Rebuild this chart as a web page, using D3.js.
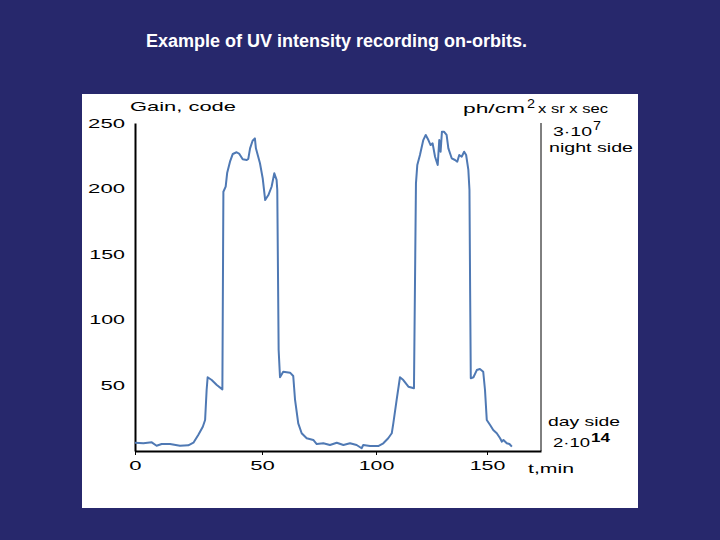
<!DOCTYPE html>
<html>
<head>
<meta charset="utf-8">
<script src="https://cdn.jsdelivr.net/npm/d3@7/dist/d3.min.js"></script>
<style>
  html, body { margin: 0; padding: 0; background: #27286c; }
  svg { display: block; }
  text { font-family: "Liberation Sans", Arial, sans-serif; }
</style>
</head>
<body>
<svg id="chart" width="720" height="540"></svg>
<script>
// ---- data ----
const times = [0, 3.3, 6.6, 8.5, 10.5, 13.8, 17.7, 21.0, 23.0, 24.9, 26.7, 27.6, 28.2, 28.6, 30.2, 32.2, 34.4,
  34.8, 35.7, 36.3, 37.4, 38.5, 40.0, 41.1, 42.4, 44.0, 44.6, 45.3, 46.3, 47.2, 47.6, 49.2, 50.3, 51.4, 52.8,
  54.2, 55.4, 56.4, 56.7, 57.3, 57.9, 59.3, 62.3, 63.7, 64.5, 65.9, 67.4, 69.6, 72.5, 74.0, 76.9, 79.8, 82.8,
  85.7, 88.6, 91.5, 93.7, 94.4, 97.4, 101.0, 103.3, 105.5, 107.1, 107.8, 109.3, 110.8, 112.3, 114.6, 117.1,
  118.0, 118.6, 119.8, 121.3, 122.4, 123.6, 124.6, 125.5, 126.6, 127.8, 128.5, 129.1, 129.7, 130.6, 131.8,
  132.6, 134.1, 135.6, 136.6, 137.5, 138.6, 139.7, 140.6, 141.6, 142.1, 142.4, 142.7, 143.9, 145.4, 146.8,
  148.3, 149.1, 149.9, 151.4, 152.8, 154.4, 155.9, 156.7, 157.4, 158.9, 160.1, 161.2];
const gain = [6.3, 5.9, 6.6, 4.0, 5.3, 5.3, 4.0, 4.3, 6.3, 12.2, 18.5, 23.6, 46.5, 56.2, 54.1, 50.3, 47.0,
  197.6, 201.5, 212.1, 220.5, 226.4, 227.7, 226.4, 222.3, 221.8, 222.6, 230.7, 236.5, 238.3, 230.7, 219.3, 207.9, 191.3, 195.1,
  201.4, 211.7, 206.6, 198.9, 77, 56.2, 60.4, 59.7, 57.2, 38.9, 21.1, 13.5, 9.7, 8.4, 5.3, 5.9, 4.6, 6.3,
  4.6, 5.9, 4.6, 2.1, 4.6, 3.8, 3.8, 5.9, 9.7, 13.5, 21.1, 38.9, 56.2, 54.1, 49.0, 47.8,
  204.0, 218.0, 225.6, 237.0, 240.9, 237.0, 233.2, 234.5, 224.3, 218.0, 237.0, 228.1, 243.4, 243.4, 240.9,
  230.7, 223.1, 221.8, 220.5, 225.6, 224.3, 228.1, 225.6, 214.2, 198.9, 122.7, 55.4, 56.2, 61.7, 62.5,
  60.4, 46.5, 23.6, 19.8, 16.0, 13.5, 9.7, 7.1, 8.4, 5.9, 5.3, 3.3];
const xTicks = [0, 50, 100, 150];
const yTicks = [50, 100, 150, 200, 250];
const tMax = 174.3;
const titleText = "Example of UV intensity recording on-orbits.";
const yLabel = "Gain, code";
const xLabel = "t,min";
const unitMain = "ph/cm";
const unitSup = "2";
const unitRest = "x sr x sec";
const nightVal = "3·10", nightExp = "7", nightText = "night side";
const dayText = "day side", dayVal = "2·10", dayExp = "14";

// ---- drawing ----
const svg = d3.select("#chart");

svg.append("text")
  .attr("x", 146).attr("y", 47)
  .attr("fill", "#ffffff")
  .attr("font-weight", "bold")
  .attr("font-size", 18)
  .text(titleText);

svg.append("rect")
  .attr("x", 82).attr("y", 94).attr("width", 556).attr("height", 414)
  .attr("fill", "#ffffff");

// the original's horizontal axis is not evenly spaced; piecewise linear scale
const x = d3.scaleLinear()
  .domain([0, 50, 100, 150, tMax])
  .range([135, 262, 376, 487, 541]);
const y = d3.scaleLinear().domain([0, 250]).range([451, 123]);

const digitW = 12.3;
function stretch(sel, perChar) {
  sel.each(function() {
    const t = d3.select(this);
    const s = t.text();
    let w = 0;
    for (const c of s) w += (c === "1") ? perChar * 0.9 : perChar;
    t.attr("textLength", w).attr("lengthAdjust", "spacingAndGlyphs");
  });
}

// x axis
const gx = svg.append("g").attr("transform", `translate(0,${y(0)})`)
  .call(d3.axisBottom(x).tickValues(xTicks).tickSize(4).tickSizeOuter(0));
gx.select(".domain").attr("stroke", "#000").attr("stroke-width", 2);
gx.selectAll(".tick line").attr("stroke", "#000").attr("stroke-width", 1);
gx.selectAll(".tick text")
  .attr("fill", "#000").attr("font-size", 13)
  .attr("y", 19).attr("dy", null)
  .attr("font-family", "Liberation Sans, Arial, sans-serif")
  .call(stretch, digitW);

// y axis
const gy = svg.append("g").attr("transform", `translate(${x(0)},0)`)
  .call(d3.axisLeft(y).tickValues(yTicks).tickSize(0).tickPadding(10).tickSizeOuter(0));
gy.select(".domain").attr("stroke", "#000").attr("stroke-width", 2);
gy.selectAll(".tick text")
  .attr("fill", "#000").attr("font-size", 13)
  .attr("font-family", "Liberation Sans, Arial, sans-serif")
  .call(stretch, digitW);

// right-hand vertical line
svg.append("line")
  .attr("x1", x(tMax)).attr("x2", x(tMax))
  .attr("y1", y(250)).attr("y2", y(0))
  .attr("stroke", "#000").attr("stroke-width", 1);

// data line
const pts = times.map((t, i) => [t, gain[i]]);
svg.append("path")
  .datum(pts)
  .attr("fill", "none")
  .attr("stroke", "#4f79b4")
  .attr("stroke-width", 2)
  .attr("stroke-linejoin", "round")
  .attr("d", d3.line().x(d => x(d[0])).y(d => y(d[1])));

// labels
function label(txt, lx, ly, w, size, weight) {
  return svg.append("text")
    .attr("x", lx).attr("y", ly)
    .attr("fill", "#000")
    .attr("font-size", size || 13)
    .attr("font-weight", weight || "normal")
    .attr("textLength", w).attr("lengthAdjust", "spacingAndGlyphs")
    .text(txt);
}
label(yLabel, 130, 110.5, 106);
label(xLabel, 528, 472.5, 46);
label(unitMain, 463, 112.5, 62);
label(unitSup, 527, 108.3, 8, 12);
label(unitRest, 538, 112.5, 70);
label(nightVal, 553, 135.7, 39);
label(nightExp, 593, 130, 8, 12);
label(nightText, 549, 151.7, 84);
label(dayText, 548, 426, 72);
label(dayVal, 553, 447.3, 37);
label(dayExp, 591, 441.7, 19, 12, "bold");
</script>
</body>
</html>
